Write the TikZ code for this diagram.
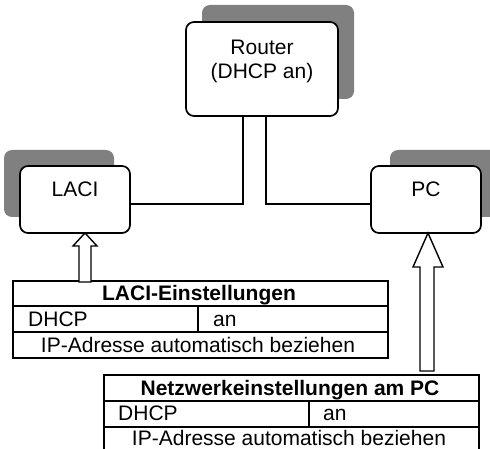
\documentclass[tikz,border=0pt]{standalone}
\usepackage{fontspec}
\setmainfont{Liberation Sans}
\usetikzlibrary{shadows}
\begin{document}
\begin{tikzpicture}[x=1pt,y=-1pt,
  txt/.style={font=\fontsize{21}{24}\selectfont, inner sep=0pt, anchor=base},
  btxt/.style={txt, font=\fontsize{21}{24}\selectfont\bfseries},
  dev/.style={draw, line width=1.7pt, fill=white, rectangle, rounded corners=8pt, inner sep=0pt},
  shad/.style 2 args={drop shadow={shadow xshift=#1, shadow yshift=#2, fill=black!50, opacity=1}},
  wire/.style={line width=1.6pt},
  hollow/.style={line width=1.4pt, fill=white, line join=miter},
  tab/.style={draw, line width=1.7pt, inner sep=0pt, fill=white},
  tabline/.style={line width=1.7pt}
]
\useasboundingbox (0,0) rectangle (490,449);

% devices
\node[dev, shad={16pt}{17pt}, minimum width=152pt, minimum height=94pt] (router) at (262,69) {};
\node[txt] (routert1) at (262,55) {Router};
\node[txt] (routert2) at (262,79) {(DHCP an)};

\node[dev, shad={-16pt}{16pt}, minimum width=110pt, minimum height=67pt] (laci) at (75,199.5) {};
\node[txt] (lacit) at (75,197) {LACI};

\node[dev, shad={19pt}{16pt}, minimum width=110pt, minimum height=67pt] (pc) at (426,199.5) {};
\node[txt] (pct) at (426,197) {PC};

% cables
\draw[wire] ([xshift=-19pt]router.south) |- ([yshift=-4.5pt]laci.east);
\draw[wire] ([xshift=4pt]router.south) |- ([yshift=-4.5pt]pc.west);

% LACI table
\node[tab, minimum width=375pt, minimum height=77pt] (lacitab) at (200.5,319.5) {};
\draw[tabline] (13,306) -- (388,306);
\draw[tabline] (13,332) -- (388,332);
\draw[tabline] (198,306) -- (198,332);
\node[btxt] (lacih) at (199,300) {LACI-Einstellungen};
\node[txt, anchor=base west] (lacid) at (28,326) {DHCP};
\node[txt, anchor=base west] (lacia) at (213,326) {an};
\node[txt] (laciip) at (198,352) {IP-Adresse automatisch beziehen};

% PC table
\node[tab, minimum width=375pt, minimum height=100pt] (pctab) at (291.5,425) {};
\draw[tabline] (104,401) -- (479,401);
\draw[tabline] (104,427) -- (479,427);
\draw[tabline] (309,401) -- (309,427);
\node[btxt] (pch) at (290,395) {Netzwerkeinstellungen am PC};
\node[txt, anchor=base west] (pcd) at (118,420) {DHCP};
\node[txt, anchor=base west] (pca) at (323,420) {an};
\node[txt] (pcip) at (289,445) {IP-Adresse automatisch beziehen};

% hollow arrows
\draw[hollow] (79,282) -- (79,246) -- (73,246) -- (85,233) -- (97,246) -- (91,246) -- (91,282) -- cycle;
\draw[hollow] (420,371) -- (420,267) -- (413,267) -- (428,233) -- (443,267) -- (434,267) -- (434,371) -- cycle;
\end{tikzpicture}
\end{document}
